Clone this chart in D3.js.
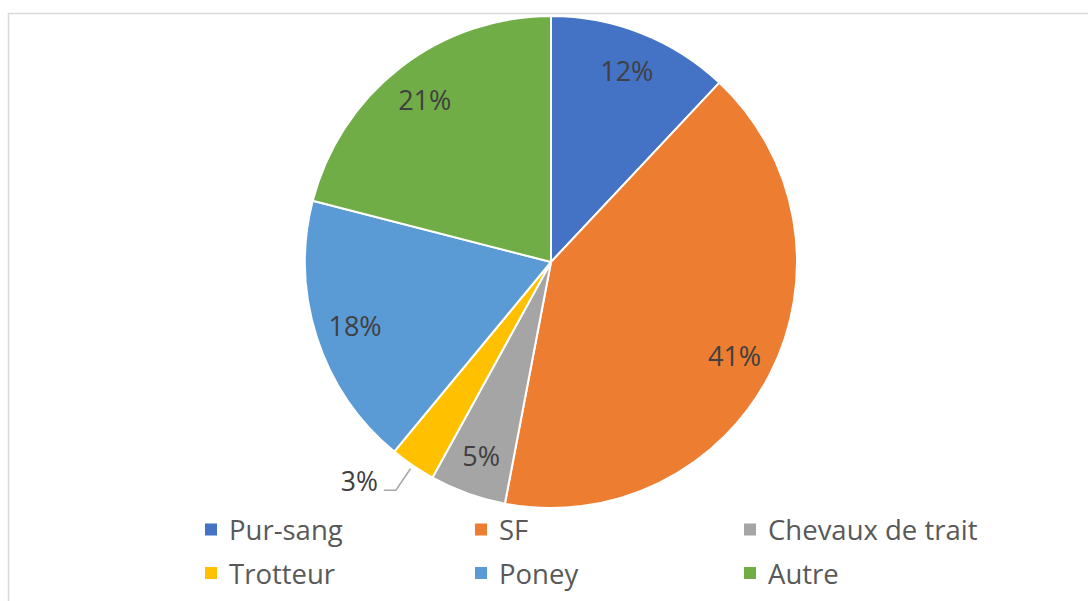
<!DOCTYPE html>
<html>
<head>
<meta charset="utf-8">
<script src="https://cdn.jsdelivr.net/npm/d3@7"></script>
<style>
  html, body { margin: 0; padding: 0; background: #fff; }
  svg { display: block; }
</style>
</head>
<body>
<svg id="chart" width="1088" height="601"></svg>
<script>
const categories = ["Pur-sang", "SF", "Chevaux de trait", "Trotteur", "Poney", "Autre"];
const values = [12, 41, 5, 3, 18, 21];
const labels = ["12%", "41%", "5%", "3%", "18%", "21%"];
const colors = ["#4472C4", "#ED7D31", "#A5A5A5", "#FFC000", "#5B9BD5", "#70AD47"];
const outsideLabels = ["Trotteur"];

const FONT = "'Open Sans', sans-serif";
const svg = d3.select("#chart");

// chart border
svg.append("rect")
  .attr("x", 8.5).attr("y", 13.5)
  .attr("width", 1100).attr("height", 620)
  .attr("fill", "#fff")
  .attr("stroke", "#D9D9D9")
  .attr("stroke-width", 1.5);

const cx = 551, cy = 262, R = 246;
const g = svg.append("g").attr("transform", `translate(${cx},${cy})`);

const pie = d3.pie().value(d => d.value).sort(null);
const data = categories.map((c, i) => ({ name: c, value: values[i], label: labels[i], color: colors[i] }));
const arcs = pie(data);

const arc = d3.arc().innerRadius(0).outerRadius(R);
const labelArc = d3.arc().innerRadius(206).outerRadius(206);

g.selectAll("path.slice")
  .data(arcs)
  .join("path")
  .attr("class", "slice")
  .attr("d", arc)
  .attr("fill", d => d.data.color)
  .attr("stroke", "#fff")
  .attr("stroke-width", 2)
  .attr("stroke-linejoin", "round");

// inside labels
g.selectAll("text.inlabel")
  .data(arcs.filter(d => !outsideLabels.includes(d.data.name)))
  .join("text")
  .attr("class", "inlabel")
  .attr("x", d => labelArc.centroid(d)[0])
  .attr("y", d => labelArc.centroid(d)[1])
  .attr("text-anchor", "middle")
  .attr("dominant-baseline", "central")
  .attr("font-family", FONT)
  .attr("font-size", 27)
  .attr("fill", "#404040")
  .text(d => d.data.label);

// outside labels with leader lines
arcs.filter(d => outsideLabels.includes(d.data.name)).forEach(d => {
  const mid = (d.startAngle + d.endAngle) / 2;
  const p1 = [Math.sin(mid) * (R + 4), -Math.cos(mid) * (R + 4)];
  const p2 = [Math.sin(mid) * (R + 30), -Math.cos(mid) * (R + 30)];
  const p3 = [p2[0] - 12, p2[1]];
  g.append("polyline")
    .attr("points", [p1, p2, p3].map(p => p.join(",")).join(" "))
    .attr("fill", "none")
    .attr("stroke", "#A6A6A6")
    .attr("stroke-width", 1.5);
  g.append("text")
    .attr("x", p3[0] - 6)
    .attr("y", p3[1] - 9)
    .attr("text-anchor", "end")
    .attr("dominant-baseline", "central")
    .attr("font-family", FONT)
    .attr("font-size", 26.5)
    .attr("fill", "#404040")
    .text(d.data.label);
});

// legend
const legendCols = [205, 475, 744];
const legendRows = [529.5, 573];
const legend = svg.append("g");
data.forEach((d, i) => {
  const col = i % 3, row = Math.floor(i / 3);
  const x = legendCols[col], y = legendRows[row];
  legend.append("rect")
    .attr("x", x).attr("y", y - 6)
    .attr("width", 12).attr("height", 12)
    .attr("fill", d.color);
  legend.append("text")
    .attr("x", x + 24).attr("y", y)
    .attr("dominant-baseline", "central")
    .attr("font-family", FONT)
    .attr("font-size", 27.5)
    .attr("fill", "#595959")
    .text(d.name);
});
</script>
</body>
</html>
